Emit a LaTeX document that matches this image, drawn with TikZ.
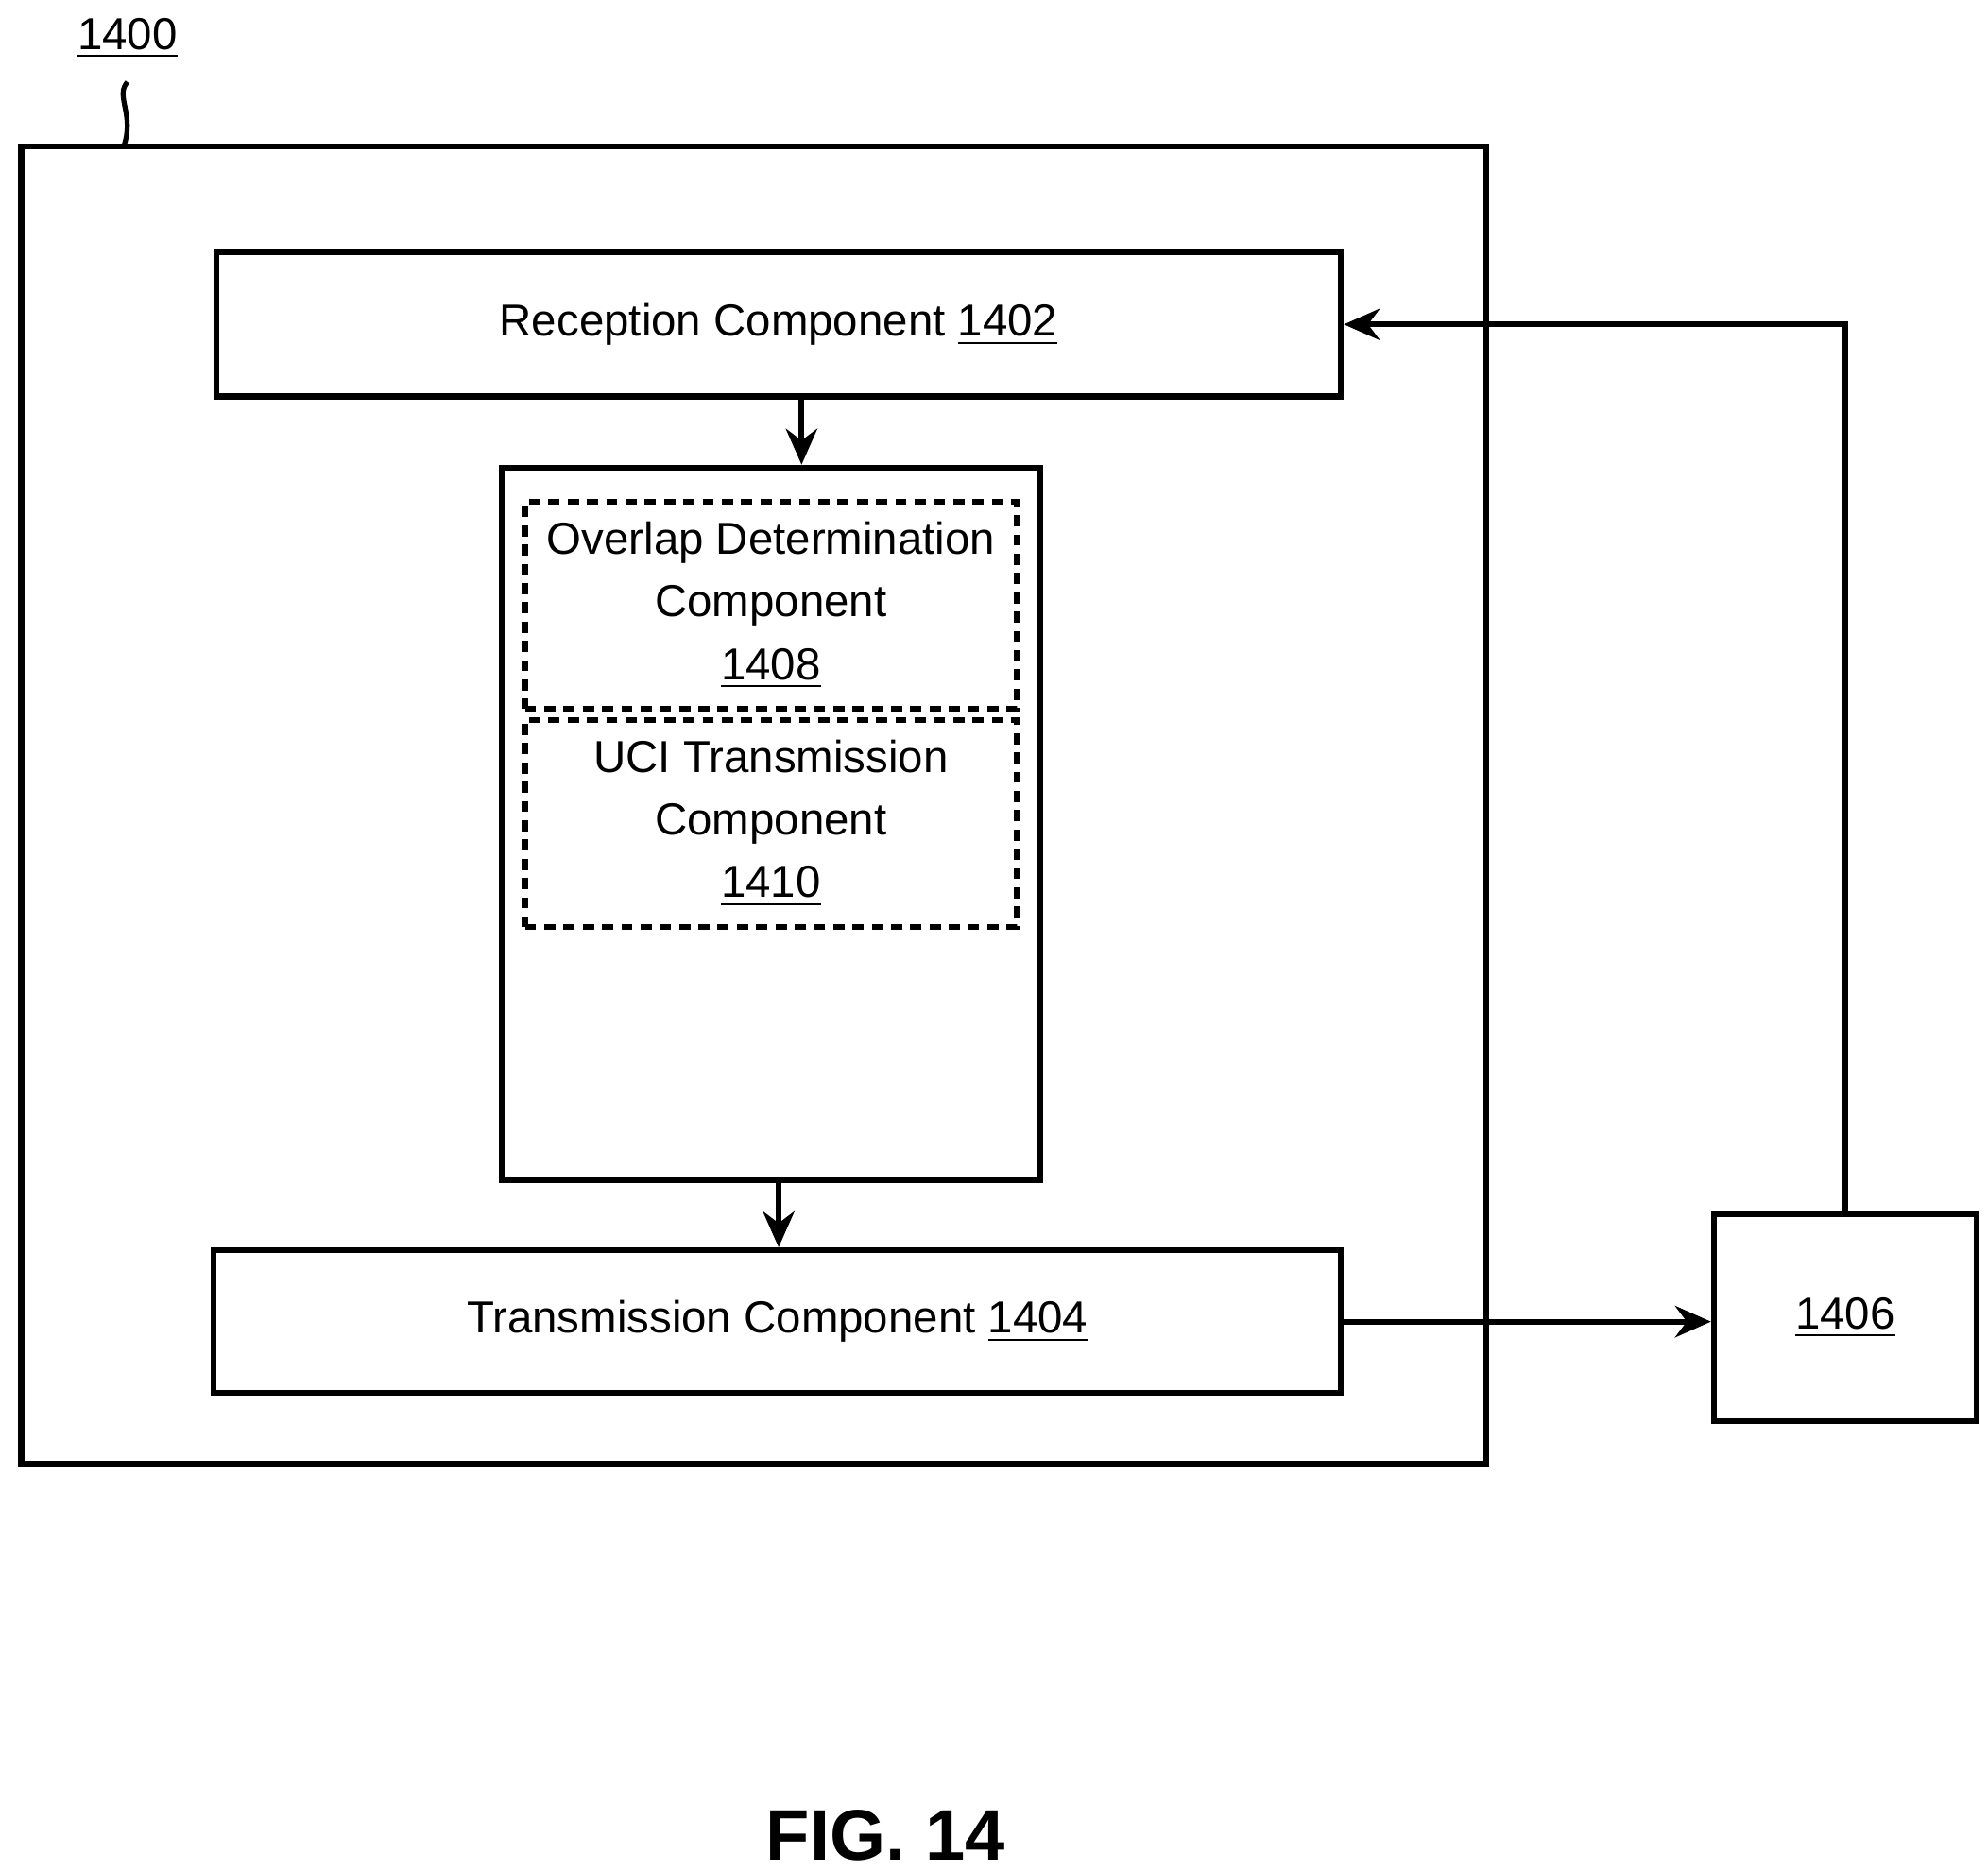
\documentclass[tikz,border=0pt]{standalone}
\usepackage{fontspec}
\setmainfont{Liberation Sans}
\usetikzlibrary{arrows.meta,positioning,calc}

\tikzset{
  blk/.style={draw, line width=1.3pt, inner sep=0pt},
  dblk/.style={draw, line width=1.3pt, dash pattern=on 2.5pt off 1.8pt, inner sep=0pt, align=center},
  conn/.style={line width=1.3pt, -{Stealth[length=8pt, width=7pt]}},
}

\begin{document}
\begin{tikzpicture}[x=0.01cm, y=-0.01cm, every node/.style={font=\fontsize{10pt}{14pt}\selectfont}]
    \useasboundingbox (0,0) rectangle (1560,1468);

    % Outer device box
    \node[blk, minimum width=11.49cm, minimum height=10.33cm] (dev) at (591.5,631.5) {};
    \node (lbl) at (100,30) {\underline{1400}};
    \draw[line width=1.1pt] (lbl.south) ++(0,6) .. controls (90,75) and (106,90) .. (97,115);

    % Components
    \node[blk, minimum width=8.82cm, minimum height=1.13cm] (rx) at (611,254.5) {Reception Component \underline{1402}};
    \node[blk, minimum width=4.22cm, minimum height=5.59cm] (mid) at (605,646.5) {};
    \node[dblk, minimum width=3.86cm, minimum height=1.62cm] (ovl) at (605,475) {Overlap Determination\\Component\\\underline{1408}};
    \node[dblk, minimum width=3.86cm, minimum height=1.62cm] (uci) at (605,646) {UCI Transmission\\Component\\\underline{1410}};
    \node[blk, minimum width=8.84cm, minimum height=1.12cm] (tx) at (610,1037) {Transmission Component \underline{1404}};
    \node[blk, minimum width=2.06cm, minimum height=1.62cm] (ext) at (1448,1034) {\underline{1406}};

    % Connectors
    \draw[conn] (rx.south -| 629,0) -- (mid.north -| 629,0);
    \draw[conn] (mid.south -| 611,0) -- (tx.north -| 611,0);
    \draw[conn] (tx.east) -- (tx.east -| ext.west);
    \draw[conn] (ext.north) |- (rx.east);

    \node[font=\bfseries\fontsize{16pt}{18pt}\selectfont] (fig) at (695,1440) {FIG. 14};
\end{tikzpicture}
\end{document}
